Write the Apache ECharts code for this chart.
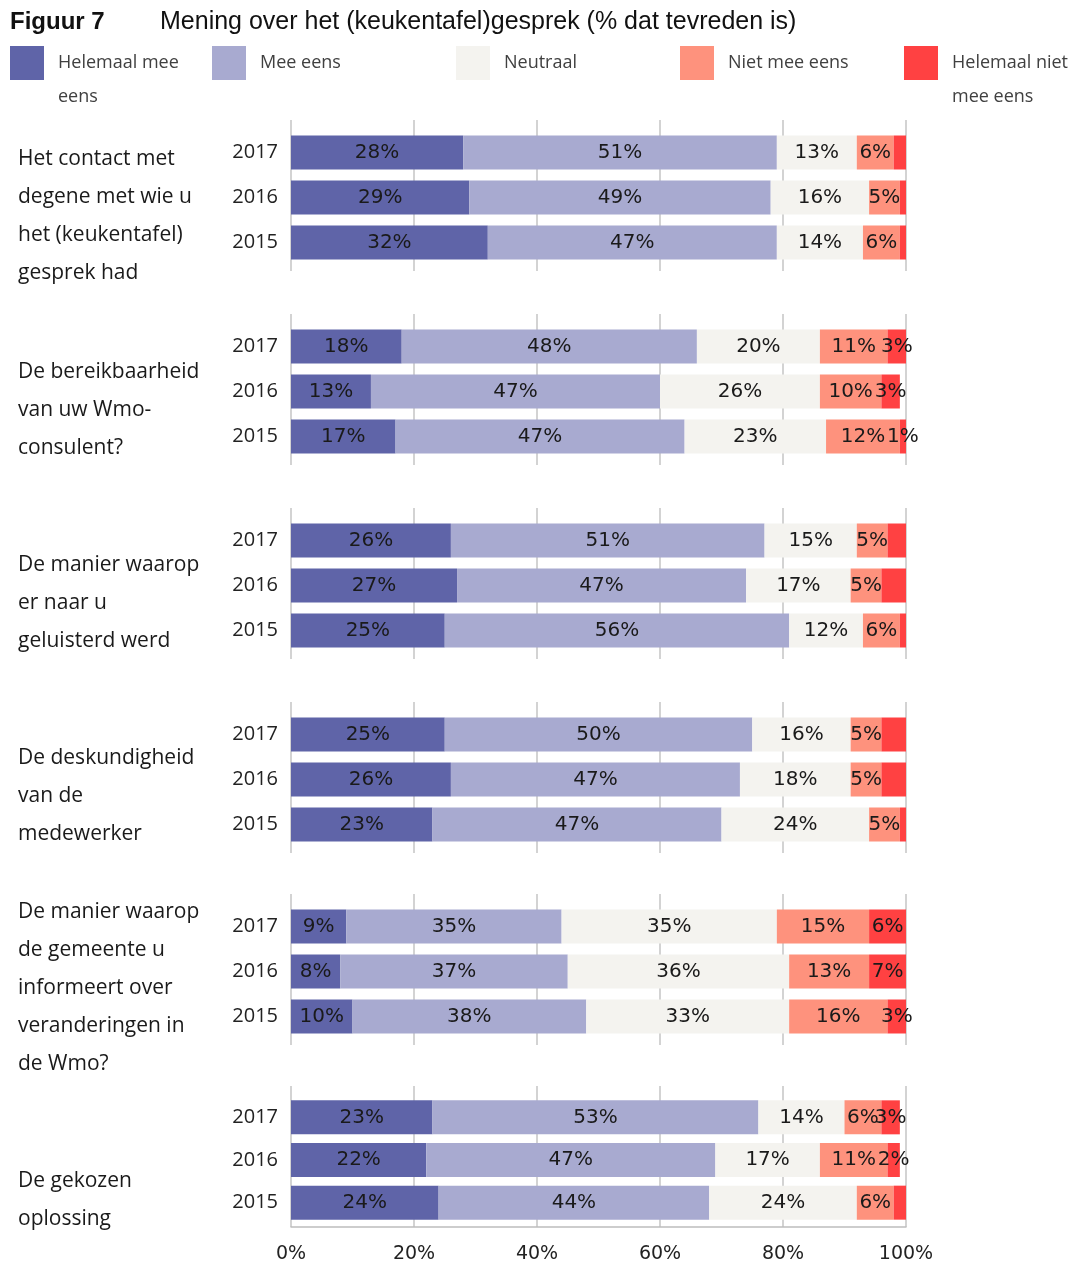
<!DOCTYPE html>
<html>
<head>
<meta charset="utf-8">
<title>Figuur 7</title>
<script src="https://cdn.jsdelivr.net/npm/echarts@6/dist/echarts.min.js"></script>
<style>
	html, body { margin: 0; padding: 0; background: #fff; }
	#chart { width: 1075px; height: 1264px; }
</style>
</head>
<body>
<div id="chart"></div>
<script>
	// data
	const years = ["2017", "2016", "2015"];
	const questions = [
		"Het contact met\ndegene met wie u\nhet (keukentafel)\ngesprek had",
		"De bereikbaarheid\nvan uw Wmo-\nconsulent?",
		"De manier waarop\ner naar u\ngeluisterd werd",
		"De deskundigheid\nvan de\nmedewerker",
		"De manier waarop\nde gemeente u\ninformeert over\nveranderingen in\nde Wmo?",
		"De gekozen\noplossing",
	];
	const seriesNames = ["Helemaal mee eens", "Mee eens", "Neutraal", "Niet mee eens", "Helemaal niet mee eens"];
	// per vraag: [2017, 2016, 2015]
	const helemaalMeeEens = [[28, 29, 32], [18, 13, 17], [26, 27, 25], [25, 26, 23], [9, 8, 10], [23, 22, 24]];
	const meeEens = [[51, 49, 47], [48, 47, 47], [51, 47, 56], [50, 47, 47], [35, 37, 38], [53, 47, 44]];
	const neutraal = [[13, 16, 14], [20, 26, 23], [15, 17, 12], [16, 18, 24], [35, 36, 33], [14, 17, 24]];
	const nietMeeEens = [[6, 5, 6], [11, 10, 12], [5, 5, 6], [5, 5, 5], [15, 13, 16], [6, 11, 6]];
	const helemaalNiet = [[2, 1, 1], [3, 3, 1], [3, 4, 1], [4, 4, 1], [6, 7, 3], [3, 2, 2]];
	// welke waarden van "helemaal niet mee eens" een label hebben
	const helemaalNietLabel = [[false, false, false], [true, true, true], [false, false, false], [false, false, false], [true, true, true], [true, true, false]];
	const xTicks = [0, 20, 40, 60, 80, 100];

	const allValues = [helemaalMeeEens, meeEens, neutraal, nietMeeEens, helemaalNiet];
	const colors = ["#5F64A8", "#A8AAD0", "#F4F3EF", "#FE927D", "#FF4142"];
	const legendText = {
		"Helemaal mee eens": "\nHelemaal mee\neens",
		"Helemaal niet mee eens": "\nHelemaal niet\nmee eens",
	};

	// layout van de zes blokken (balken en achtergrond met rasterlijnen)
	const groupTop = [130, 324, 518, 712, 904, 1096];
	const groupHeight = [135, 135, 135, 135, 135, 128];
	const labelTop = [140, 353, 546, 739, 893, 1162];
	const legendLeft = [10, 212, 456, 680, 904];

	let grids = [], xAxes = [], yAxes = [], series = [], graphics = [];
	const n = questions.length;

	// eerst de balk-grids, daarna de achtergrond-grids met rasterlijnen
	questions.forEach(function (q, g) {
		grids.push({ left: 291, right: 169, top: groupTop[g], height: groupHeight[g] });
		xAxes.push({
			type: "value",
			gridIndex: g,
			min: 0,
			max: 100,
			interval: 20,
			axisLine: { show: false },
			axisTick: { show: false },
			axisLabel: { show: false },
			splitLine: { show: false },
		});
		yAxes.push({
			type: "category",
			gridIndex: g,
			data: years,
			inverse: true,
			axisLine: { show: false },
			axisTick: { show: false },
			axisLabel: { margin: 13, color: "#222", fontFamily: "Open Sans", fontSize: 20 },
		});
		allValues.forEach(function (vals, s) {
			series.push({
				name: seriesNames[s],
				type: "bar",
				stack: "vraag" + g,
				xAxisIndex: g,
				yAxisIndex: g,
				barWidth: 34,
				z: 3,
				itemStyle: { color: colors[s] },
				label: {
					show: true,
					position: "inside",
					formatter: "{c}%",
					color: "#1A1A1A",
					fontFamily: "DejaVu Sans",
					fontSize: 20,
				},
				data: vals[g].map(function (v, i) {
					if (s === 4 && !helemaalNietLabel[g][i]) {
						return { value: v, label: { show: false } };
					}
					return v;
				}),
			});
		});
		graphics.push({
			type: "text",
			left: 18,
			top: labelTop[g],
			style: {
				text: q,
				fontFamily: "Open Sans",
				fontSize: 21,
				lineHeight: 38,
				fill: "#1A1A1A",
			},
		});
	});

	questions.forEach(function (q, g) {
		const last = g === n - 1;
		const top = groupTop[g] - 10;
		const bottom = last ? 1228 : groupTop[g] + groupHeight[g] + 6;
		grids.push({ left: 291, right: 169, top: top, height: bottom - top });
		xAxes.push({
			type: "value",
			gridIndex: n + g,
			min: 0,
			max: 100,
			interval: 20,
			axisLine: { show: last, lineStyle: { color: "#BDBDBD", width: 1.5 } },
			axisTick: { show: false },
			axisLabel: {
				show: last,
				margin: 18,
				color: "#222",
				fontFamily: "DejaVu Sans",
				fontSize: 19,
				formatter: function (v) {
					return xTicks.indexOf(v) >= 0 ? v + "%" : "";
				},
			},
			splitLine: { show: true, lineStyle: { color: "#C4C4C4", width: 1.5 } },
		});
		yAxes.push({ type: "value", gridIndex: n + g, show: false });
	});

	const legends = seriesNames.map(function (name, i) {
		const twoLines = !!legendText[name];
		return {
			data: [name],
			left: legendLeft[i],
			top: twoLines ? 12 : 46,
			padding: 0,
			icon: "rect",
			itemWidth: 34,
			itemHeight: 34,
			selectedMode: false,
			formatter: function (nm) {
				return legendText[nm] || nm;
			},
			textStyle: {
				fontFamily: "Open Sans",
				fontSize: 18,
				lineHeight: 34,
				color: "#404040",
				padding: [0, 0, 0, 9],
			},
		};
	});

	const option = {
		animation: false,
		title: [
			{
				text: "Figuur 7",
				left: 10,
				top: 10,
				padding: 0,
				textStyle: { fontFamily: "Liberation Sans", fontWeight: "bold", fontSize: 24, color: "#111" },
			},
			{
				text: "Mening over het (keukentafel)gesprek (% dat tevreden is)",
				left: 160,
				top: 10,
				padding: 0,
				textStyle: { fontFamily: "Liberation Sans", fontWeight: "normal", fontSize: 25, color: "#111" },
			},
		],
		legend: legends,
		grid: grids,
		xAxis: xAxes,
		yAxis: yAxes,
		series: series,
		graphic: graphics,
	};

	const myChart = echarts.init(document.getElementById("chart"));
	myChart.setOption(option);
</script>
</body>
</html>
